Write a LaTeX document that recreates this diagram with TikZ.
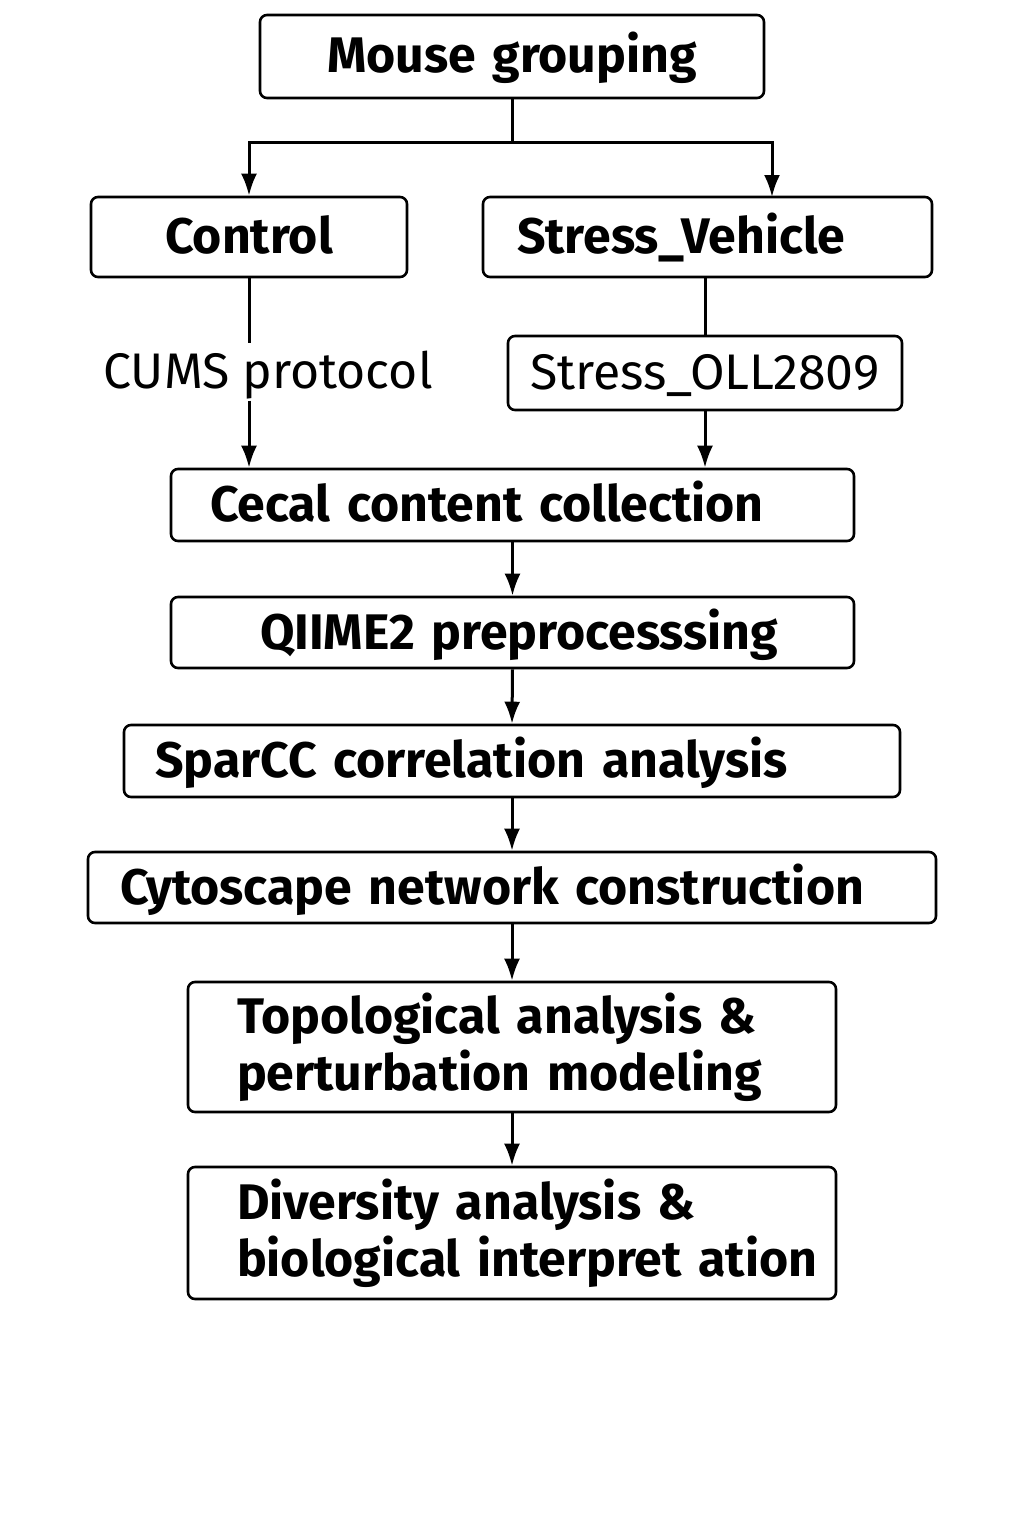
\documentclass[tikz,border=0pt]{standalone}
\usepackage{fontspec}
\setmainfont{Fira Sans}
\usetikzlibrary{arrows.meta,positioning}

\tikzset{
  box/.style={draw, rounded corners=7pt, line width=2.6pt, inner xsep=8pt, inner ysep=0pt,
    align=left, font=\bfseries\fontsize{50}{57}\selectfont},
  one/.style={text height=45pt, text depth=12pt},
  plain/.style={font=\fontsize{50}{57}\selectfont},
  flow/.style={line width=3pt, -{Latex[length=22pt,width=16pt]}},
  link/.style={line width=3pt}
}

\begin{document}
\begin{tikzpicture}[x=1pt,y=-1pt]
  \useasboundingbox[fill=white] (0,0) rectangle (1024,1536);

  \node[box, one, align=center, text width=488pt, minimum height=83pt] (mouse) at (512,56.5) {Mouse grouping};
  \node[box, one, align=center, text width=300pt, minimum height=80pt] (ctrl) at (249,237) {Control};
  \node[box, one, text width=433pt, minimum height=80pt] (sveh) at (707.5,237) {\hspace*{26pt}Stress\_Vehicle};
  \node[box, one, plain, align=center, text width=378pt, minimum height=74pt] (oll) at (705,373) {Stress\_OLL2809};
  \node[plain, one, inner sep=0pt] (cums) at (268,372) {CUMS protocol};
  \node[box, one, text width=667pt, minimum height=72pt] (cecal) at (512.5,505) {\hspace*{31pt}Cecal content collection};
  \node[box, one, text width=667pt, minimum height=71pt] (qiime) at (512.5,632.5) {\hspace*{81pt}QIIME2 preprocesssing};
  \node[box, one, text width=760pt, minimum height=72pt] (sparcc) at (512,761) {\hspace*{23pt}SparCC correlation analysis};
  \node[box, one, text width=832pt, minimum height=71pt] (cyto) at (512,887.5) {\hspace*{24pt}Cytoscape network construction};
  \node[box, text width=632pt, minimum height=130pt] (topo) at (512,1047)
    {\hspace*{41pt}Topological analysis \&\\\hspace*{41pt}perturbation modeling};
  \node[box, text width=632pt, minimum height=132pt] (div) at (512,1233)
    {\hspace*{41pt}Diversity analysis \&\\\hspace*{41pt}biological interpret ation};

  \coordinate (split) at (512,143);
  \coordinate (sveh in) at (772,197);

  \draw[link] (mouse.south) -- (split);
  \draw[flow] (split) -| (ctrl.north);
  \draw[flow] (split) -| (sveh in);
  \draw[link] (ctrl.south) -- (ctrl.south |- cums.north);
  \draw[flow] (ctrl.south |- cums.south) -- (ctrl.south |- cecal.north);
  \draw[link] (sveh.south -| oll.north) -- (oll.north);
  \draw[flow] (oll.south) -- (oll.south |- cecal.north);
  \draw[flow] (cecal.south) -- (qiime.north);
  \draw[flow] (qiime.south) -- (sparcc.north);
  \draw[flow] (sparcc.south) -- (cyto.north);
  \draw[flow] (cyto.south) -- (topo.north);
  \draw[flow] (topo.south) -- (div.north);
\end{tikzpicture}
\end{document}
